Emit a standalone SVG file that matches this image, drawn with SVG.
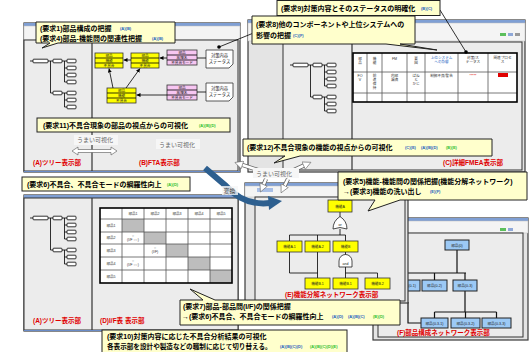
<svg xmlns="http://www.w3.org/2000/svg" width="530" height="352" viewBox="0 0 530 352">
<defs>
<style>
text{font-family:"Liberation Sans","Noto Sans CJK JP",sans-serif;}
.win{fill:#e4e4e4;stroke:#3a3a3a;stroke-width:1.2}
.tb{fill:#7f9fd4}
.tool{fill:#f4f4f4;stroke:#bbb;stroke-width:0.5}
.pane{fill:#ececec;stroke:#333;stroke-width:1}
.co{fill:#ffffcc;stroke:#222;stroke-width:1}
.ct{font-size:7px;font-weight:bold;fill:#000}
.bl{font-size:4px;font-weight:bold;fill:#1f5fbf}
.gr{font-size:4px;font-weight:bold;fill:#2fbf2f}
.red{font-size:6.5px;font-weight:bold;fill:#e00000}
.tn{fill:#fff;stroke:#000;stroke-width:0.8}
.ln{stroke:#000;stroke-width:0.8;fill:none}
.ln2{stroke:#111;stroke-width:1.2;fill:none}
.yb{fill:#ffff00;stroke:#333;stroke-width:0.8}
.pk{fill:#f7c6f2;stroke:#333;stroke-width:0.8}
.bb{fill:#9cc9f5;stroke:#222;stroke-width:1}
.nt{font-size:3.6px;fill:#222;text-anchor:middle}
.tt{font-size:3.6px;fill:#333;text-anchor:middle}
.umai{font-size:6px;fill:#666}
.ubg{fill:#f6f6f6}
.tg{stroke:#555;stroke-width:0.8;fill:none}
.tbd{fill:none;stroke:#000;stroke-width:1.6}
.gray{fill:#bdbdbd}
.wo{stroke:#666;stroke-width:4.2;fill:none}
.wi{stroke:#fff;stroke-width:2.6;fill:none}
</style>
<marker id="ah" markerUnits="userSpaceOnUse" markerWidth="4" markerHeight="4" refX="4" refY="2" orient="auto"><path d="M0,0L4,2L0,4Z" fill="#000"/></marker>
<marker id="wh" markerUnits="userSpaceOnUse" markerWidth="9" markerHeight="9" refX="2" refY="4.5" orient="auto"><path d="M0.5,0.5L8.5,4.5L0.5,8.5Z" fill="#fff" stroke="#666" stroke-width="0.6"/></marker>
<g id="tree">
<path class="ln" d="M-3,0H0M15,0H20M17.5,0V32H20M29,0H34M31.5,0V21H34M31.5,7H34M31.5,14H34M29,32H34M31.5,32V46H34M31.5,39H34"/>
<rect class="tn" x="0" y="-1.8" width="15" height="3.6" rx="0.8"/>
<rect class="tn" x="20" y="-1.8" width="9" height="3.6" rx="0.8"/>
<rect class="tn" x="20" y="30.2" width="9" height="3.6" rx="0.8"/>
<rect class="tn" x="34" y="-1.8" width="9" height="3.6" rx="0.8"/>
<rect class="tn" x="34" y="5.2" width="9" height="3.6" rx="0.8"/>
<rect class="tn" x="34" y="12.2" width="9" height="3.6" rx="0.8"/>
<rect class="tn" x="34" y="19.2" width="9" height="3.6" rx="0.8"/>
<rect class="tn" x="34" y="30.2" width="9" height="3.6" rx="0.8"/>
<rect class="tn" x="34" y="37.2" width="9" height="3.6" rx="0.8"/>
<rect class="tn" x="34" y="44.2" width="9" height="3.6" rx="0.8"/>
</g>
</defs>
<rect width="530" height="352" fill="#fff"/>

<!-- Window 1: (A) tree + (B) FTA -->
<g id="win-ab">
<rect class="win" x="24" y="23" width="216" height="149"/>
<rect class="tb" x="24" y="23" width="216" height="3"/>
<rect class="tool" x="24" y="26" width="216" height="14"/>
<rect class="pane" x="24" y="40" width="214" height="131"/>
<line x1="92" y1="40" x2="92" y2="171" stroke="#333" stroke-width="1.2"/>
<line x1="24" y1="171.5" x2="240" y2="171.5" stroke="#6a8cc8" stroke-width="1.2"/>
<use href="#tree" x="33" y="61"/>
<text class="red" x="33" y="165">(A)ツリー表示部</text>
<text class="red" x="139" y="165">(B)FTA表示部</text>
</g>

<g id="fta-b1"><rect class="yb" x="95" y="53" width="28" height="15"/><path class="ln" d="M95,58H123M95,63H123"/><text class="nt" x="109" y="57">部品</text><text class="nt" x="109" y="62">機能</text><text class="nt" x="109" y="67">不具合</text></g>
<g id="fta-b2"><rect class="yb" x="131" y="53" width="28" height="15"/><path class="ln" d="M131,58H159M131,63H159"/><text class="nt" x="145" y="57">部品</text><text class="nt" x="145" y="62">機能</text><text class="nt" x="145" y="67">不具合</text></g>
<g id="fta-b3"><rect class="yb" x="107" y="88" width="29" height="15"/><path class="ln" d="M107,93H136M107,98H136"/><text class="nt" x="121.5" y="92">部品</text><text class="nt" x="121.5" y="97">機能</text><text class="nt" x="121.5" y="102">不具合</text></g>
<g id="fta-p1"><rect class="pk" x="167" y="50" width="30" height="15"/><path class="ln" d="M167,55H197M167,60H197"/><text class="nt" x="182" y="54">部品</text><text class="nt" x="182" y="59">故障名</text><text class="nt" x="182" y="64">不具合モード</text></g>
<g id="fta-p2"><rect class="pk" x="167" y="85" width="30" height="15"/><path class="ln" d="M167,90H197M167,95H197"/><text class="nt" x="182" y="89">部品</text><text class="nt" x="182" y="94">故障名</text><text class="nt" x="182" y="99">不具合モード</text></g>
<g id="fta-s1"><path d="M206,50H233V64L229,68H206Z" fill="#fff" stroke="#333" stroke-width="0.8"/><text class="nt" x="219.5" y="57" style="font-size:4.3px">対策内容</text><text class="nt" x="219.5" y="63" style="font-size:4.3px">ステータス</text></g>
<g id="fta-s2"><path d="M206,83H233V97L229,101H206Z" fill="#fff" stroke="#333" stroke-width="0.8"/><text class="nt" x="219.5" y="90" style="font-size:4.3px">対策内容</text><text class="nt" x="219.5" y="96" style="font-size:4.3px">ステータス</text></g>

<!-- Window C: detailed FMEA -->
<g id="win-c">
<rect class="win" x="248" y="20" width="277" height="152"/>
<rect class="tb" x="248" y="20" width="277" height="3"/>
<rect class="tool" x="248" y="23" width="277" height="18"/>
<rect x="500" y="33" width="6" height="3" fill="#5cbf5c"/><rect x="508" y="33" width="5" height="3" fill="#8fa8d8"/><rect x="515" y="33" width="5" height="3" fill="#999"/>
<rect class="pane" x="283" y="42" width="239" height="128"/>
<line x1="352" y1="42" x2="352" y2="170" stroke="#333" stroke-width="1.2"/>
<use href="#tree" x="293" y="65"/>
<rect x="353" y="53" width="164" height="49" fill="#fff"/>
<path class="tg" d="M367,53V102M382,53V102M407,53V102M425,53V102M458,53V102M488,53V102M353,72H517M353,93H517"/>
<rect class="tbd" x="353" y="53" width="164" height="49"/>
<text class="tt" x="360" y="60">部</text><text class="tt" x="360" y="64">品</text>
<text class="tt" x="374.5" y="60">機</text><text class="tt" x="374.5" y="64">能</text>
<text class="tt" x="394.5" y="60">FM</text>
<text class="tt" x="416" y="60">要</text><text class="tt" x="416" y="64">因</text>
<text class="tt" x="441.5" y="59" style="fill:#1f5fbf">上位システム</text><text class="tt" x="441.5" y="63" style="fill:#1f5fbf">への影響</text>
<text class="tt" x="473" y="59">対策/ス</text><text class="tt" x="473" y="63">テータス</text>
<text class="tt" x="502.5" y="59">関連プロセ</text><text class="tt" x="502.5" y="63">ス</text>
<text class="tt" x="360" y="77">FO</text><text class="tt" x="360" y="81">V</text>
<text class="tt" x="374.5" y="77">前</text><text class="tt" x="374.5" y="81">進</text><text class="tt" x="374.5" y="85">保</text><text class="tt" x="374.5" y="89">持</text>
<text class="tt" x="394.5" y="77">内部</text><text class="tt" x="394.5" y="81">漏洩</text>
<text class="tt" x="416" y="77">ばね</text><text class="tt" x="416" y="81">と</text><text class="tt" x="416" y="85">かじ</text>
<text class="tt" x="441.5" y="77">制御不良/警告</text>
<text class="tt" x="473" y="77" style="fill:#e00000">*****</text>
<rect x="498" y="73" width="10" height="4" fill="#e00000"/>
<text class="red" x="443" y="165">(C)詳細FMEA表示部</text>
</g>

<!-- Window D: I/F table -->
<g id="win-d">
<rect class="win" x="24" y="195" width="214" height="136"/>
<rect class="tb" x="24" y="195" width="214" height="3"/>
<rect class="pane" x="24" y="198" width="214" height="132"/>
<line x1="92" y1="198" x2="92" y2="330" stroke="#333" stroke-width="1.2"/>
<line x1="24" y1="330.5" x2="238" y2="330.5" stroke="#6a8cc8" stroke-width="1.2"/>
<use href="#tree" x="33" y="218"/>
<rect x="100" y="208" width="132" height="75" fill="#fff"/>
<rect class="gray" x="122" y="219" width="22" height="13"/>
<rect class="gray" x="144" y="232" width="22" height="12"/>
<rect class="gray" x="166" y="244" width="22" height="13"/>
<rect class="gray" x="188" y="257" width="22" height="13"/>
<rect class="gray" x="210" y="270" width="22" height="13"/>
<path class="tg" d="M122,208V283M144,208V283M166,208V283M188,208V283M210,208V283M100,219H232M100,232H232M100,244H232M100,257H232M100,270H232"/>
<rect class="tbd" x="100" y="208" width="132" height="75"/>
<text class="tt" x="133" y="215">部品1</text><text class="tt" x="155" y="215">部品2</text><text class="tt" x="177" y="215">部品3</text><text class="tt" x="199" y="215">部品4</text><text class="tt" x="221" y="215">部品5</text>
<text class="tt" x="111" y="227">部品1</text><text class="tt" x="111" y="239">部品2</text><text class="tt" x="111" y="252">部品3</text><text class="tt" x="111" y="265">部品4</text><text class="tt" x="111" y="278">部品5</text>
<text class="tt" x="133" y="237">○</text><text class="tt" x="133" y="241">(I/F ○○)</text>
<text class="tt" x="155" y="249">○</text><text class="tt" x="155" y="253">(I/F)</text>
<text class="tt" x="133" y="262">○</text><text class="tt" x="133" y="266">(I/F ○○)</text>
<text class="red" x="33" y="323">(A)ツリー表示部</text>
<text class="red" x="100" y="323">(D)I/F表 表示部</text>
</g>

<!-- Window F: part structure network -->
<g id="win-f">
<rect class="win" x="373" y="218" width="155" height="122"/>
<rect class="tb" x="373" y="218" width="155" height="3"/>
<rect class="tool" x="373" y="221" width="155" height="12"/>
<rect x="500" y="228" width="6" height="3" fill="#5cbf5c"/><rect x="508" y="228" width="5" height="3" fill="#8fa8d8"/>
<rect class="pane" x="378" y="233" width="145" height="104"/>
<path class="ln2" d="M457,250V273M408,273H466M434.5,273V280M465,273V280M465,291V312M434.5,312H496.5M434.5,312V318M465.5,312V318M496.5,312V318M408,302V323H421"/>
<g id="p0"><rect class="bb" x="445" y="240" width="24" height="10"/><text class="nt" x="457" y="246.5">部品(0)</text></g>
<g id="p01"><rect class="bb" x="397" y="280" width="23" height="11"/><text class="nt" x="408.5" y="287">部品(0-1)</text></g>
<g id="p02"><rect class="bb" x="422" y="280" width="25" height="11"/><text class="nt" x="434.5" y="287">部品(0-2)</text></g>
<g id="p03"><rect class="bb" x="453" y="280" width="24" height="11"/><text class="nt" x="465" y="287">部品(0-3)</text></g>
<g id="p031"><rect class="bb" x="421" y="318" width="27" height="10"/><text class="nt" x="434.5" y="324.5">部品(0-3-1)</text></g>
<g id="p032"><rect class="bb" x="451" y="318" width="29" height="10"/><text class="nt" x="465.5" y="324.5">部品(0-3-2)</text></g>
<g id="p033"><rect class="bb" x="482" y="318" width="29" height="10"/><text class="nt" x="496.5" y="324.5">部品(0-3-3)</text></g>
<text class="red" x="397" y="335">(F)部品構成ネットワーク表示部</text>
</g>

<!-- Window E: function decomposition network -->
<g id="win-e">
<rect class="win" x="245" y="183" width="163" height="120"/>
<rect class="tb" x="245" y="183" width="163" height="3"/>
<rect class="tool" x="245" y="186" width="163" height="11"/>
<rect x="257" y="188" width="16" height="4" fill="#a9bfe6"/>
<rect class="pane" x="255" y="197" width="150" height="104"/>
<path class="ln" d="M340,212V217M340,229V235M289.5,235H345.5M289.5,235V241M317.5,235V241M345.5,235V241M345.5,252V255M345.5,267V273M345.5,273H377.5M345.5,273V278M377.5,273V278M289.5,252V273H317.5M317.5,252V278"/>
<g id="fA"><rect class="yb" x="328" y="200" width="24" height="12"/><text class="nt" x="340" y="207.5">機能A</text></g>
<g id="gor"><path d="M333,229Q333,221 340,216.5Q347,221 347,229Q340,226 333,229Z" fill="#fff" stroke="#222" stroke-width="0.8"/><text class="nt" x="340" y="226">or</text></g>
<g id="fA1"><rect class="yb" x="277" y="241" width="25" height="11"/><text class="nt" x="289.5" y="248">機能A.1</text></g>
<g id="fA2"><rect class="yb" x="305" y="241" width="25" height="11"/><text class="nt" x="317.5" y="248">機能A.2</text></g>
<g id="fB"><rect class="yb" x="333" y="241" width="25" height="11"/><text class="nt" x="345.5" y="248">機能B</text></g>
<g id="gand"><path d="M339,267V261A6.5,6.5 0 0 1 352,261V267Z" fill="#fff" stroke="#222" stroke-width="0.8"/><text class="nt" x="345.5" y="265">and</text></g>
<g id="fA21"><rect class="yb" x="305" y="278" width="25" height="11"/><text class="nt" x="317.5" y="285">機能B.1</text></g>
<g id="fB1"><rect class="yb" x="333" y="278" width="25" height="11"/><text class="nt" x="345.5" y="285">機能B.1</text></g>
<g id="fB2"><rect class="yb" x="365" y="278" width="25" height="11"/><text class="nt" x="377.5" y="285">機能B.2</text></g>
<text class="red" x="285" y="297">(E)機能分解ネットワーク表示部</text>
</g>

<!-- connectors -->
<g id="connectors">
<line class="ln" x1="131" y1="60" x2="123.5" y2="60" marker-end="url(#ah)"/>
<line class="ln" x1="167" y1="58" x2="159.5" y2="58" marker-end="url(#ah)"/>
<line class="ln" x1="113" y1="88" x2="109" y2="68.5" marker-end="url(#ah)"/>
<line class="ln" x1="126" y1="88" x2="140" y2="68.5" marker-end="url(#ah)"/>
<line class="ln" x1="167" y1="95" x2="136.5" y2="95" marker-end="url(#ah)"/>
<line class="ln" x1="197" y1="58" x2="206" y2="58"/>
<line class="ln" x1="197" y1="92" x2="206" y2="92"/>
<line class="ln" x1="298" y1="15" x2="219" y2="47"/>
<circle cx="219" cy="47" r="1.8" fill="#000"/>
<line class="ln" x1="440" y1="10" x2="466" y2="52"/>
<circle cx="466" cy="52" r="1.8" fill="#000"/>
<path d="M205,168L226,186Q244,206 270,203" fill="none" stroke="#2d5f8f" stroke-width="6"/>
<path d="M268,196L282,201L269,210Z" fill="#2d5f8f"/>
<path d="M72,151L78,147L78,149.5L111,149.5L111,147L117,151L111,155L111,152.5L78,152.5L78,155Z" fill="#fff" stroke="#555" stroke-width="0.6"/>
<path class="wo" d="M258,170L241,164.5M294,170L305,165M266,179L263,186M288,179L284,187"/>
<path class="wi" d="M258,170L241,164.5" marker-end="url(#wh)"/>
<path class="wi" d="M294,170L305,165" marker-end="url(#wh)"/>
<path class="wi" d="M266,179L263,186" marker-end="url(#wh)"/>
<path class="wi" d="M288,179L284,187" marker-end="url(#wh)"/>
</g>

<!-- うまい可視化 labels -->
<g id="umai1"><rect class="ubg" x="74" y="135" width="44" height="10"/><text class="umai" x="77" y="142">うまい可視化</text></g>
<g id="umai2"><rect class="ubg" x="156" y="139" width="44" height="10"/><text class="umai" x="159" y="146.5">うまい可視化</text></g>
<g id="umai3"><rect class="ubg" x="253" y="168" width="46" height="10"/><text class="umai" x="256" y="175.5">うまい可視化</text></g>
<g id="henkan"><rect class="ubg" x="222" y="186" width="16" height="9" opacity="0.8"/><text x="223.5" y="193" style="font-size:6px;fill:#444">変換</text></g>

<!-- callouts -->
<g id="req1"><path class="co" d="M36,22H175V43H58L42,48L50,43H36Z"/><text class="ct" x="40" y="31">(要求1)部品構成の把握</text><text class="bl" x="120" y="30">(A)(B)</text><text class="ct" x="40" y="40.5">(要求4)部品-機能間の関連性把握</text><text class="bl" x="152" y="39.5">(A)(B)</text></g>
<g id="req9"><rect class="co" x="277" y="0.5" width="163" height="15"/><text class="ct" x="281" y="10.5">(要求9)対策内容とそのステータスの明確化</text><text class="bl" x="421" y="9.5">(B)(C)</text></g>
<g id="req8"><path class="co" d="M252,16H415V44H400L437,50L386,44H252Z"/><text class="ct" x="256" y="27">(要求8)他のコンポーネントや上位システムへの</text><text class="ct" x="256" y="37.5">影響の把握</text><text class="bl" x="293" y="36.5">(C)(F)</text></g>
<g id="req11"><rect class="co" x="37" y="118" width="193" height="14"/><text class="ct" x="43" y="127.5">(要求11)不具合現象の部品の視点からの可視化</text><text class="gr" x="199" y="126.5">(A)(B)(D)</text></g>
<g id="req12"><path class="co" d="M243,139H492V156H300L274,163L285,156H243Z"/><text class="ct" x="247" y="150">(要求12)不具合現象の機能の視点からの可視化</text><text class="bl" x="405" y="149">(C)(E)</text><text class="bl" x="421" y="149">(A)(B)(D)</text><text class="gr" x="446" y="149">(B)(E)</text></g>
<g id="req6"><rect class="co" x="22" y="177" width="168" height="14"/><text class="ct" x="27" y="187">(要求6)不具合、不具合モードの網羅性向上</text><text class="gr" x="167" y="186">(A)(D)</text></g>
<g id="req5"><path class="co" d="M338,172H527V200H400L368,211L375,200H338Z"/><text class="ct" x="343" y="184">(要求5)機能-機能間の関係把握(機能分解ネットワーク)</text><text class="ct" x="343" y="194">→(要求3)機能の洗い出し</text><text class="bl" x="430" y="193">(E)(F)</text></g>
<g id="req7"><path class="co" d="M180,300H203L190,289L215,300H400V325H180Z"/><text class="ct" x="183" y="309">(要求7)部品-部品間(I/F)の関係把握</text><text class="ct" x="182" y="319">→(要求6)不具合、不具合モードの網羅性向上</text><text class="bl" x="332" y="318">(A)(D)</text><text class="bl" x="348" y="318">(A)(B)(C)</text><text class="gr" x="373" y="318">(B)(D)</text></g>
<g id="req10"><rect class="co" x="102" y="330" width="245" height="24"/><text class="ct" x="107" y="339">(要求10)対策内容に応じた不具合分析結果の可視化</text><text class="ct" x="107" y="348.5" style="font-size:6.6px">各表示部を設計や製造などの職制に応じて切り替える。</text><text class="bl" x="280" y="347.5">(A)(B)(C)(D)</text><text class="gr" x="310" y="347.5">(A)(B)(C)(D)(E)</text></g>
</svg>
